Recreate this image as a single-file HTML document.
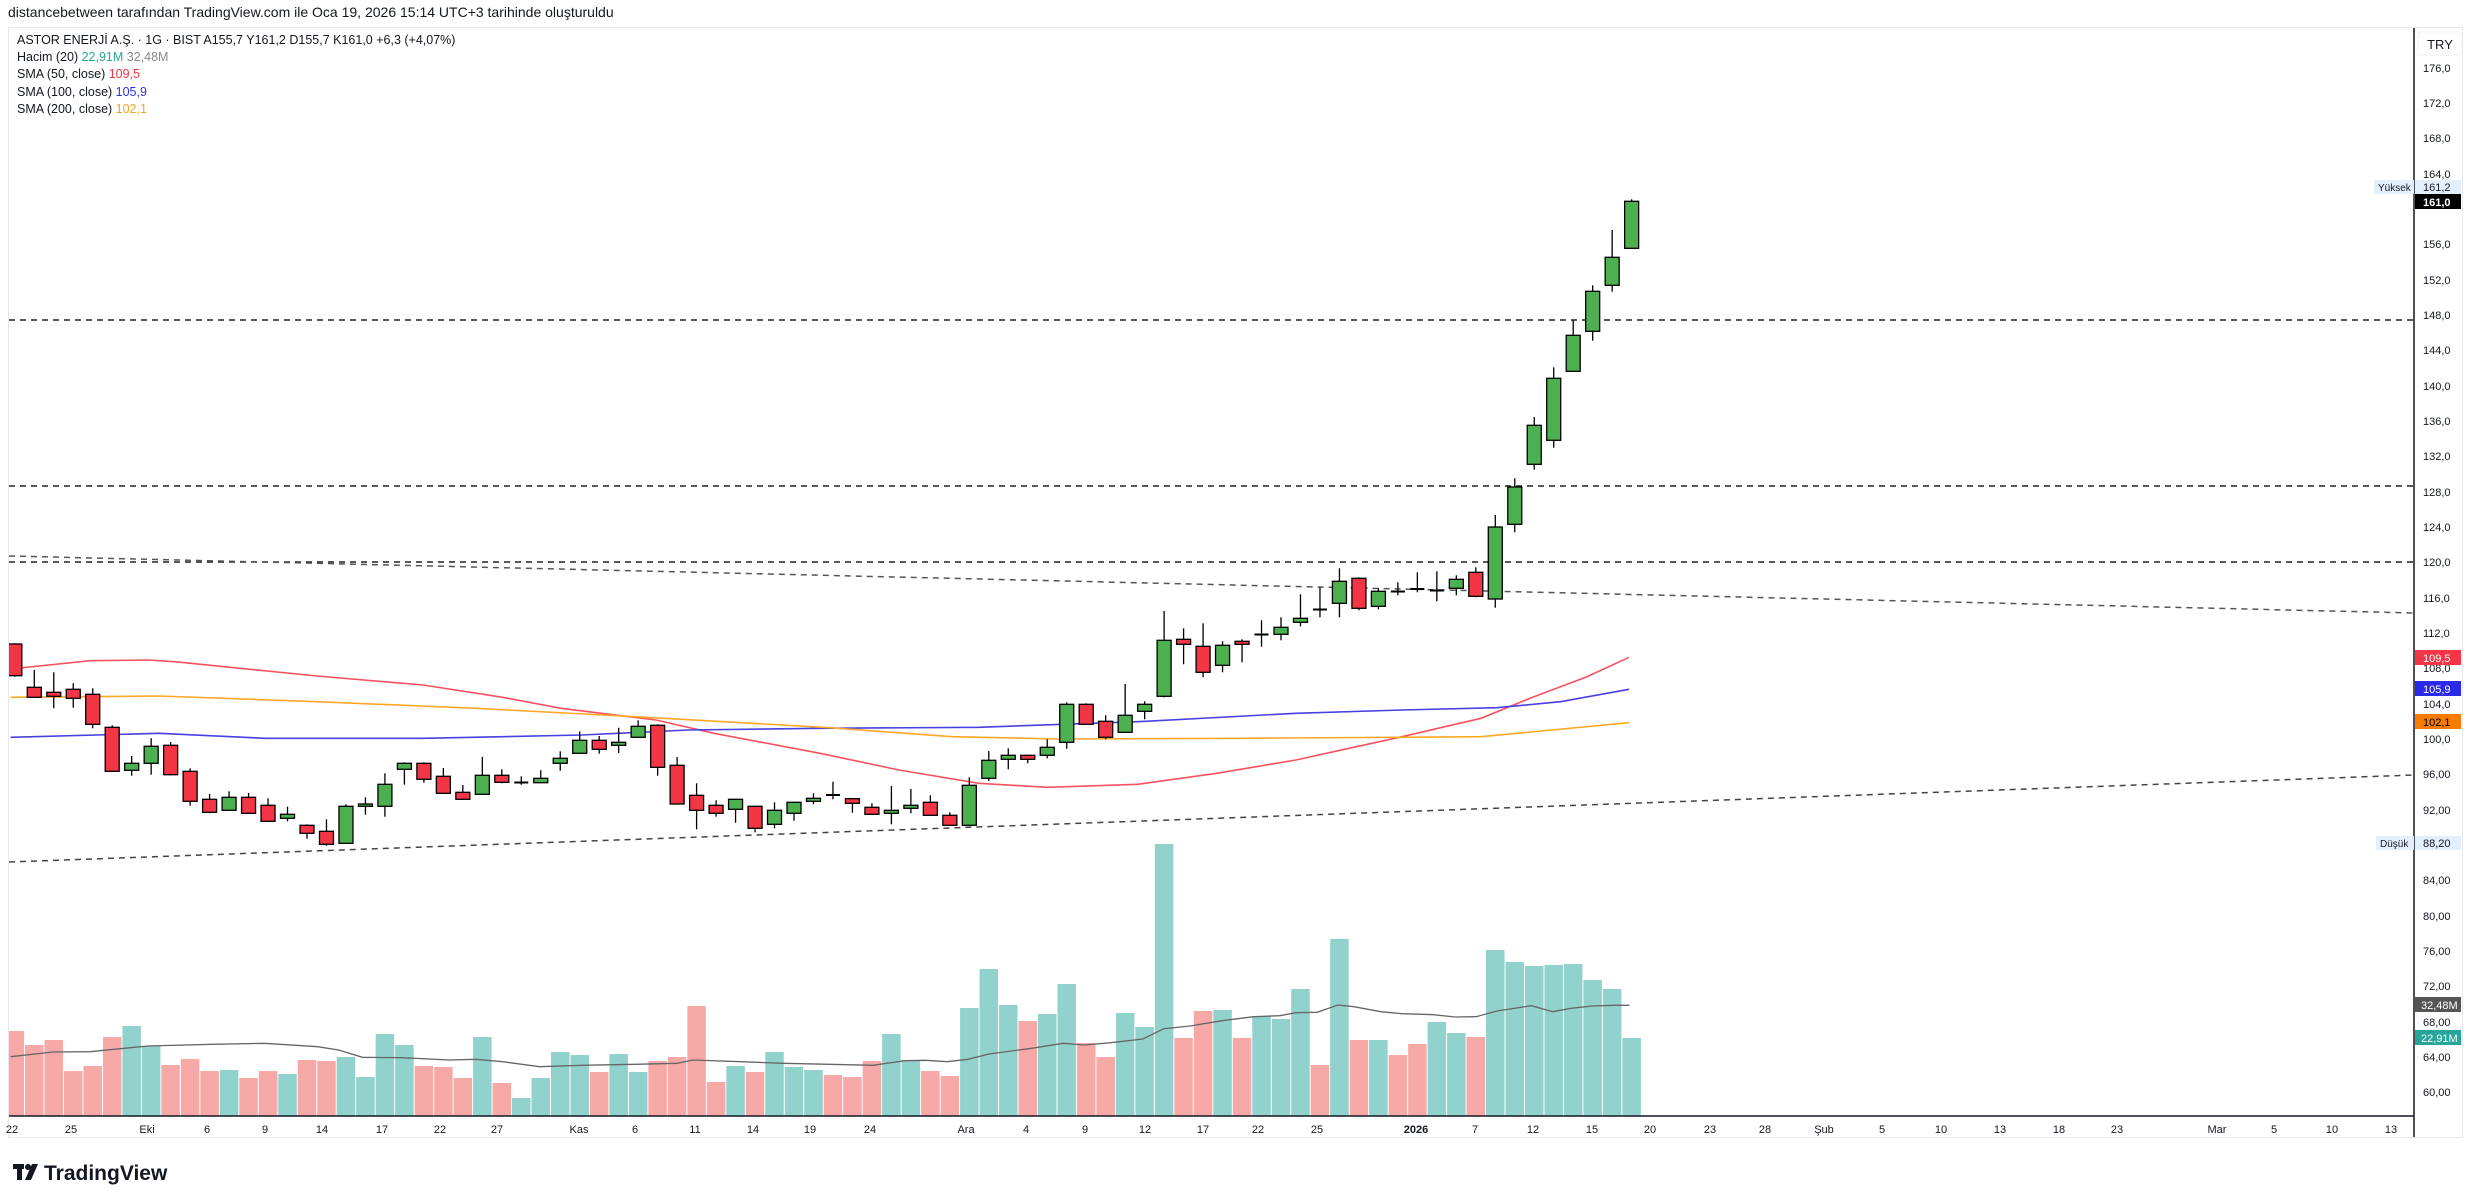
<!DOCTYPE html>
<html><head><meta charset="utf-8"><style>
html,body{margin:0;padding:0;background:#fff;width:2476px;height:1202px;overflow:hidden}
svg{display:block;font-family:"Liberation Sans",sans-serif}
</style></head><body>
<svg width="2476" height="1202" viewBox="0 0 2476 1202" xmlns="http://www.w3.org/2000/svg">
<text x="8" y="17" font-size="14" fill="#131722">distancebetween tarafından TradingView.com ile Oca 19, 2026 15:14 UTC+3 tarihinde oluşturuldu</text>
<rect x="8.5" y="27.5" width="2454" height="1110" fill="#fff" stroke="#e6e8ee"/>
<defs><clipPath id="c"><rect x="9" y="28" width="2405" height="1088"/></clipPath></defs>
<g clip-path="url(#c)">
<!-- dashed lines -->
<g stroke-dasharray="6,5" stroke-width="1.5" fill="none">
<line x1="9" y1="320" x2="2414" y2="320" stroke="#222"/>
<line x1="9" y1="486" x2="2414" y2="486" stroke="#222"/>
<line x1="9" y1="562" x2="2414" y2="562" stroke="#222"/>
<line x1="9" y1="556" x2="2414" y2="613" stroke="#555"/>
<line x1="9" y1="862" x2="2414" y2="775" stroke="#444"/>
</g>
<!-- volume -->
<g id="vol">
</g>
<polyline fill="none" stroke="#666" stroke-width="1.3" points="10.6,1056.7 52.9,1052 90,1051.7 148,1046 211.6,1044.3 264.5,1043.3 317.4,1046.7 338.6,1050 362.4,1057.3 402,1057.7 449.7,1060 476,1059.3 502.6,1061.7 539.6,1066.7 582,1065.3 634.8,1064.3 677,1063.3 693,1060 740.6,1061.7 783,1063.3 829.5,1064.3 873,1065.3 904.6,1060.7 925.8,1060.3 947,1061.7 968,1059.3 989,1054 1031.6,1048.3 1063,1043.3 1084.5,1045 1111,1042.7 1142.7,1039 1163.9,1028.7 1190,1026 1222,1020.7 1253.8,1016.7 1280,1015.7 1296,1012.7 1317,1012.3 1338,1005 1354,1006.7 1380.7,1011.7 1402,1013.7 1433.6,1014.7 1454.8,1017 1476,1016.7 1497,1011 1531.5,1005.7 1552.7,1011.7 1571,1008.3 1592,1006 1613.5,1005.3 1629.4,1005.3"/>
<!-- SMAs -->
<polyline fill="none" stroke="#f7525f" stroke-width="1.6" points="10.6,669 90,660.7 148,660 174.6,661.7 317,676 423,685 502.6,697.3 561,708.3 656,720 714,733.3 820,753.3 899,770 978.7,783.3 1047.5,787.3 1137.4,784.3 1216.8,773.3 1296,760 1349,748.3 1402,736.7 1481,718.3 1534,696.7 1587,676.7 1629,657.3"/>
<polyline fill="none" stroke="#4a3fe0" stroke-width="1.6" points="10.6,737.3 158.7,733.3 264.5,738.3 423,738.3 582,735 688,730 820,728.3 978.7,727.3 1137.4,721.7 1296,713.3 1402,710 1497,707.7 1560.6,701.7 1629,689.3"/>
<polyline fill="none" stroke="#ffa726" stroke-width="1.6" points="10.6,697.3 158.7,696 317,701.7 476,708.3 635,716.7 829.5,727.7 952,736.7 1058,739 1243,738.3 1481,736.7 1629,722.7"/>
<g id="cand" stroke="#000" stroke-width="1.3"></g>
</g>
<!-- axes -->
<line x1="2414" y1="28" x2="2414" y2="1137" stroke="#131722" stroke-width="1.5"/>
<line x1="9" y1="1116" x2="2414" y2="1116" stroke="#131722" stroke-width="1.5"/>
<rect x="2418" y="32" width="44" height="23" rx="3" fill="#fff" stroke="#eef0f3"/>
<text x="2440" y="49" font-size="13" fill="#131722" text-anchor="middle">TRY</text>
<g font-size="11" fill="#131722">
<text x="2423" y="72">176,0</text><text x="2423" y="107">172,0</text><text x="2423" y="142">168,0</text><text x="2423" y="178">164,0</text>
<text x="2423" y="248">156,0</text><text x="2423" y="284">152,0</text><text x="2423" y="319">148,0</text><text x="2423" y="354">144,0</text><text x="2423" y="390">140,0</text><text x="2423" y="425">136,0</text><text x="2423" y="460">132,0</text><text x="2423" y="496">128,0</text><text x="2423" y="531">124,0</text><text x="2423" y="566">120,0</text><text x="2423" y="602">116,0</text><text x="2423" y="637">112,0</text><text x="2423" y="672">108,0</text><text x="2423" y="708">104,0</text><text x="2423" y="743">100,0</text><text x="2423" y="778">96,00</text><text x="2423" y="814">92,00</text><text x="2423" y="884">84,00</text><text x="2423" y="920">80,00</text><text x="2423" y="955">76,00</text><text x="2423" y="990">72,00</text><text x="2423" y="1026">68,00</text><text x="2423" y="1061">64,00</text><text x="2423" y="1096">60,00</text>
</g>
<rect x="2374" y="180" width="40" height="14" fill="#e3effd"/><text x="2378" y="191" font-size="10" fill="#131722">Yüksek</text>
<rect x="2415" y="180" width="46" height="14" fill="#e3effd"/><text x="2423" y="191" font-size="11" fill="#131722">161,2</text>
<rect x="2415" y="194" width="46" height="15" fill="#000"/><text x="2423" y="206" font-size="11" font-weight="bold" fill="#fff">161,0</text>
<rect x="2415" y="650" width="46" height="15" fill="#f23645"/><text x="2423" y="662" font-size="11" fill="#fff">109,5</text>
<rect x="2415" y="681" width="46" height="15" fill="#2a2ae8"/><text x="2423" y="693" font-size="11" fill="#fff">105,9</text>
<rect x="2415" y="714" width="46" height="15" fill="#f57c00"/><text x="2423" y="726" font-size="11" fill="#000">102,1</text>
<rect x="2376" y="836" width="38" height="14" fill="#e3effd"/><text x="2380" y="847" font-size="10" fill="#131722">Düşük</text>
<rect x="2415" y="836" width="46" height="14" fill="#e3effd"/><text x="2423" y="847" font-size="11" fill="#131722">88,20</text>
<rect x="2415" y="997" width="46" height="15" fill="#555"/><text x="2421" y="1009" font-size="11" fill="#fff">32,48M</text>
<rect x="2415" y="1030" width="46" height="15" fill="#26a69a"/><text x="2421" y="1042" font-size="11" fill="#fff">22,91M</text>
<g font-size="11" fill="#131722" text-anchor="middle">
<text x="12" y="1133">22</text><text x="71" y="1133">25</text><text x="147" y="1133">Eki</text><text x="207" y="1133">6</text><text x="265" y="1133">9</text><text x="322" y="1133">14</text><text x="382" y="1133">17</text><text x="440" y="1133">22</text><text x="497" y="1133">27</text><text x="579" y="1133">Kas</text><text x="635" y="1133">6</text><text x="695" y="1133">11</text><text x="753" y="1133">14</text><text x="810" y="1133">19</text><text x="870" y="1133">24</text><text x="966" y="1133">Ara</text><text x="1026" y="1133">4</text><text x="1085" y="1133">9</text><text x="1145" y="1133">12</text><text x="1203" y="1133">17</text><text x="1258" y="1133">22</text><text x="1317" y="1133">25</text><text x="1416" y="1133" font-weight="bold">2026</text><text x="1475" y="1133">7</text><text x="1533" y="1133">12</text><text x="1592" y="1133">15</text><text x="1650" y="1133">20</text><text x="1710" y="1133">23</text><text x="1765" y="1133">28</text><text x="1824" y="1133">Şub</text><text x="1882" y="1133">5</text><text x="1941" y="1133">10</text><text x="2000" y="1133">13</text><text x="2059" y="1133">18</text><text x="2117" y="1133">23</text><text x="2217" y="1133">Mar</text><text x="2274" y="1133">5</text><text x="2332" y="1133">10</text><text x="2391" y="1133">13</text>
</g>
<!-- legend -->
<g font-size="12.5" fill="#131722">
<text x="17" y="44">ASTOR ENERJİ A.Ş. · 1G · BIST  A155,7  Y161,2  D155,7  K161,0  +6,3 (+4,07%)</text>
<text x="17" y="61">Hacim (20) <tspan fill="#26a69a">22,91M</tspan> <tspan fill="#888">32,48M</tspan></text>
<text x="17" y="78">SMA (50, close) <tspan fill="#f23645">109,5</tspan></text>
<text x="17" y="96">SMA (100, close) <tspan fill="#3030e8">105,9</tspan></text>
<text x="17" y="113">SMA (200, close) <tspan fill="#f5a623">102,1</tspan></text>
</g>
<!-- logo -->
<g fill="#131722"><rect x="13" y="1164" width="11" height="5"/><rect x="17" y="1164" width="5" height="16"/><circle cx="28" cy="1167" r="3"/><polygon points="32,1164 38,1164 31,1180 25,1180"/></g>
<text x="44" y="1180" font-size="21" font-weight="bold" fill="#131722">TradingView</text>
<script>
var C=[[644,675.7,643.3,676.7,'R'],[687.3,697.3,670,697.3,'R'],[692.3,696.3,672.3,708.3,'R'],[689.3,698.3,683.3,707.7,'R'],[694.3,724.3,688.3,728.3,'R'],[727.3,771.3,725.3,771.3,'R'],[763.3,770.3,756,775.7,'G'],[746.3,763.3,738.3,774.7,'G'],[745.3,774.7,742,775.3,'R'],[771.3,801.3,768.3,805.7,'R'],[799.3,812.3,794,813.3,'R'],[797.3,810.3,791.3,810.3,'G'],[797.3,813.3,793,813.3,'R'],[805.3,821.3,798.3,821.3,'R'],[814.3,818.3,806.7,821.3,'G'],[825.3,833.3,824.3,838.7,'R'],[831.3,844.3,819.3,845.7,'R'],[806.3,843.3,804.3,843.3,'G'],[804,806.3,797.3,814.7,'G'],[784.3,806.3,773.3,816.7,'G'],[763.3,769.3,762.3,784.7,'G'],[763.3,779.3,762.3,782.7,'R'],[776.3,793.3,768,793.3,'R'],[792.3,799.3,785,799.3,'R'],[775.3,794.3,757,794.3,'G'],[775.3,782.3,769.3,783.3,'R'],[782,783,776.3,784.7,'D'],[778.3,782.7,770.3,782.7,'G'],[758.3,763.3,751.3,770.7,'G'],[740.3,753.3,731.3,753.3,'G'],[740.3,749.3,736,753.7,'R'],[742.3,745.3,727.7,753,'G'],[726.3,737.3,720.3,737.3,'G'],[725.3,767.3,724.3,775.7,'R'],[765.3,804,757,804,'R'],[795.3,810.3,783.3,829.3,'R'],[805.3,813.3,800.3,816.7,'R'],[799.3,809.3,799.3,822.7,'G'],[806.3,828.3,806.3,832.3,'R'],[810.3,824.3,802.3,828.3,'G'],[802.3,813.3,802.3,820.7,'G'],[798.3,801.3,793.3,804.3,'G'],[794,796,781.7,799.3,'D'],[798.7,803.3,798.7,812.7,'R'],[807.3,814.3,803.3,814.3,'R'],[810.3,813.3,786,824.3,'G'],[805.3,808.3,789,813.3,'G'],[802.3,815.3,795.3,815.3,'R'],[815.3,825.3,812.3,825.3,'R'],[785.3,825.3,777.3,825.3,'G'],[760.3,778.3,751,781,'G'],[755.3,759.3,748.3,769.3,'G'],[755.3,759.3,755.3,763.3,'R'],[747.3,755.3,739.3,758.3,'G'],[704.3,742.3,702.3,748.7,'G'],[704.3,724.3,703.3,724.3,'R'],[721.3,737.3,715.3,739.3,'R'],[715.3,732.3,684,732.3,'G'],[704.3,711.3,701.3,719.3,'G'],[640.3,696.3,611,697.3,'G'],[639.3,644.3,628.3,664.3,'R'],[646.3,672.3,623.3,677.3,'R'],[645.3,665.3,641.3,672.3,'G'],[641.3,644.3,639.3,662.3,'R'],[634,635,620.3,646.7,'D'],[627.3,634.3,617.3,640.3,'G'],[618.3,622.3,594.3,626.3,'G'],[609,610,587.3,617.3,'D'],[581.3,603.3,568.3,617.3,'G'],[578.3,608.3,577.3,610.3,'R'],[591.3,606.3,588.3,609.3,'G'],[591,592,582.3,595.3,'D'],[588,590,572.3,592.3,'D'],[590,591,571.3,601.3,'D'],[579.3,588.3,575.3,595.3,'G'],[572.3,596.3,567.3,597.3,'R'],[527,599,515,607.7,'G'],[487,524.3,478.3,532.3,'G'],[425.3,464.3,417,469.7,'G'],[378.3,440.3,367.3,447.7,'G'],[335.3,371.3,320.3,371.3,'G'],[291.3,331.3,285.3,340.7,'G'],[257.3,285.3,230,291.7,'G'],[201.3,248.3,199.3,248.3,'G']];
var V=[1031,1045,1040,1071,1066,1037,1026,1046,1065,1059,1071,1070,1078,1071,1074,1060,1061,1057,1077,1034,1045,1066,1067,1078,1037,1083,1098,1078,1052,1055,1072,1054,1072,1061,1057,1006,1082,1066,1072,1052,1067,1070,1075,1077,1061,1034,1060,1071,1076,1008,969,1005,1021,1014,984,1043,1057,1013,1027,844,1038,1011,1010,1038,1016,1019,989,1065,939,1040,1040,1055,1044,1022,1033,1037,950,962,966,965,964,980,989,1038];
var VC="RRRRRRGGRRRGRRGRRGGGGRRRGRGGGGRGGRRRRGRGGGRRRGGRRGGGRGGRRGGGRRGRGGGRGRGRRGGRGGGGGGGG";
var ns="http://www.w3.org/2000/svg",cg=document.getElementById('cand'),vg=document.getElementById('vol');
function el(t,a,p){var e=document.createElementNS(ns,t);for(var k in a)e.setAttribute(k,a[k]);p.appendChild(e);}
for(var i=0;i<84;i++){var x=14.8+19.48*i;
el('rect',{x:x-9.25,y:V[i],width:18.5,height:1116-V[i],fill:VC[i]=='G'?'#92d2cc':'#f7a9a7',stroke:'none'},vg);
var c=C[i];el('line',{x1:x,y1:c[2],x2:x,y2:c[3]},cg);
if(c[4]=='D'){el('line',{x1:x-7,y1:(c[0]+c[1])/2,x2:x+7,y2:(c[0]+c[1])/2,'stroke-width':2},cg);}
else el('rect',{x:x-7,y:c[0],width:14,height:Math.max(c[1]-c[0],2),fill:c[4]=='G'?'#4caf50':'#f23645'},cg);}
</script>
</svg>
</body></html>
